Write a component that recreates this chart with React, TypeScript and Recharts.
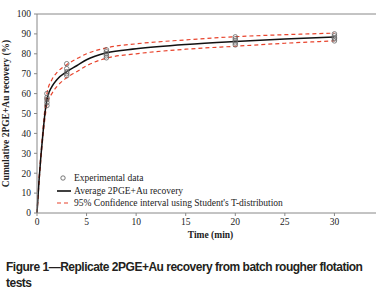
import React from 'react'
import { ComposedChart, Line, Scatter, XAxis, YAxis, ReferenceLine, Legend } from 'recharts'

// replicate flotation tests, sampled at these times (min)
const sampleTimes = [1, 3, 7, 20, 30]
const replicateA = [60, 75, 82, 88.5, 90]
const replicateB = [58, 72.5, 81, 87.5, 89]
const replicateC = [57, 71, 80, 86.5, 88]
const replicateD = [55.5, 70, 79, 85.5, 87.5]
const replicateE = [54, 69, 78, 84.5, 86.5]

// fitted average and 95% CI
const curveTimes = [0, 0.2, 0.4, 0.6, 0.8, 1, 1.5, 2, 3, 4, 5, 7, 10, 15, 20, 25, 30]
const avgRecovery = [0, 16, 29, 40, 50, 57, 63.5, 67, 71, 74, 77, 80.5, 82.5, 84.7, 86.2, 87.4, 88.4]
const upperCI = [0, 17, 30, 42, 52.5, 60, 67, 70.5, 74.5, 77.5, 80, 83, 85, 87, 88.6, 89.6, 90.4]
const lowerCI = [0, 15, 27.5, 38.5, 47.5, 54.5, 60, 63.5, 68, 71, 74, 77.8, 80, 82.3, 83.8, 85.3, 86.5]

const xTicks = [0, 5, 10, 15, 20, 25, 30, 35]
const yTicks = [0, 10, 20, 30, 40, 50, 60, 70, 80, 90, 100]

const experimental = [replicateA, replicateB, replicateC, replicateD, replicateE].flatMap((run) =>
  run.map((v, i) => ({ t: sampleTimes[i], v }))
)
const toSeries = (vals: number[]) => vals.map((v, i) => ({ t: curveTimes[i], v }))

const serif = "'Liberation Serif', 'DejaVu Serif', serif"
const RED = '#e8432c'

function OpenCircle(props: any) {
  return <circle cx={props.cx} cy={props.cy} r={2.3} fill="none" stroke="#666" strokeWidth={0.8} />
}

function LegendBox() {
  const row = { display: 'flex', alignItems: 'center', height: 12.5 } as const
  const txt = { fontFamily: serif, fontSize: 9.5, color: '#222', marginLeft: 3, whiteSpace: 'nowrap' } as const
  return (
    <div>
      <div style={row}>
        <svg width={14} height={8}>
          <circle cx={6} cy={4} r={2.2} fill="none" stroke="#555" strokeWidth={0.8} />
        </svg>
        <span style={txt}>Experimental data</span>
      </div>
      <div style={row}>
        <svg width={14} height={8}>
          <line x1={0} y1={4} x2={14} y2={4} stroke="#111" strokeWidth={1.6} />
        </svg>
        <span style={txt}>Average 2PGE+Au recovery</span>
      </div>
      <div style={row}>
        <svg width={14} height={8}>
          <line x1={0} y1={4} x2={14} y2={4} stroke={RED} strokeWidth={1.2} strokeDasharray="4 3" />
        </svg>
        <span style={txt}>95% Confidence interval using Student's T-distribution</span>
      </div>
    </div>
  )
}

export default function App() {
  return (
    <div style={{ position: 'absolute', left: 0, top: 0, width: 376, height: 292, overflow: 'hidden', background: '#fff' }}>
      <ComposedChart width={384} height={243} margin={{ top: 14, right: 0, left: 0, bottom: 0 }}>
        <ReferenceLine y={100} stroke="#888" strokeWidth={1} />
        <XAxis
          type="number"
          dataKey="t"
          domain={[0, 35]}
          ticks={xTicks}
          tickFormatter={(v) => (v === 35 ? '' : String(v))}
          height={30}
          stroke="#888"
          tickSize={3}
          tickMargin={2}
          tick={{ fontFamily: serif, fontSize: 9.5, fill: '#222' }}
          label={{
            value: 'Time (min)',
            position: 'insideBottom',
            offset: 5,
            style: { fontFamily: serif, fontSize: 9.5, fontWeight: 'bold', fill: '#222' },
          }}
        />
        <YAxis
          type="number"
          domain={[0, 100]}
          ticks={yTicks}
          width={37}
          stroke="#888"
          tickSize={3}
          tickMargin={3}
          tick={{ fontFamily: serif, fontSize: 9.5, fill: '#222' }}
          label={{
            value: 'Cumulative 2PGE+Au recovery (%)',
            angle: -90,
            position: 'insideLeft',
            offset: 6,
            style: { fontFamily: serif, fontSize: 9.5, fontWeight: 'bold', fill: '#222', textAnchor: 'middle' },
          }}
        />
        <Line data={toSeries(upperCI)} dataKey="v" type="monotone" stroke={RED} strokeWidth={1.2} strokeDasharray="4 3" dot={false} isAnimationActive={false} />
        <Line data={toSeries(lowerCI)} dataKey="v" type="monotone" stroke={RED} strokeWidth={1.2} strokeDasharray="4 3" dot={false} isAnimationActive={false} />
        <Line data={toSeries(avgRecovery)} dataKey="v" type="monotone" stroke="#111" strokeWidth={1.5} dot={false} isAnimationActive={false} />
        <Scatter data={experimental} dataKey="v" shape={<OpenCircle />} isAnimationActive={false} />
        <Legend
          layout="vertical"
          align="center"
          verticalAlign="middle"
          content={() => <LegendBox />}
          wrapperStyle={{ left: 57, top: 172, width: 'auto' }}
        />
      </ComposedChart>
      <div
        style={{
          position: 'absolute',
          left: 6,
          top: 259,
          width: 370,
          fontFamily: "'Liberation Sans', Arial, sans-serif",
          fontWeight: 'bold',
          fontSize: 12,
          letterSpacing: -0.5,
          lineHeight: '16px',
          color: '#231f20',
        }}
      >
        Figure 1—Replicate 2PGE+Au recovery from batch rougher flotation tests
      </div>
    </div>
  )
}
